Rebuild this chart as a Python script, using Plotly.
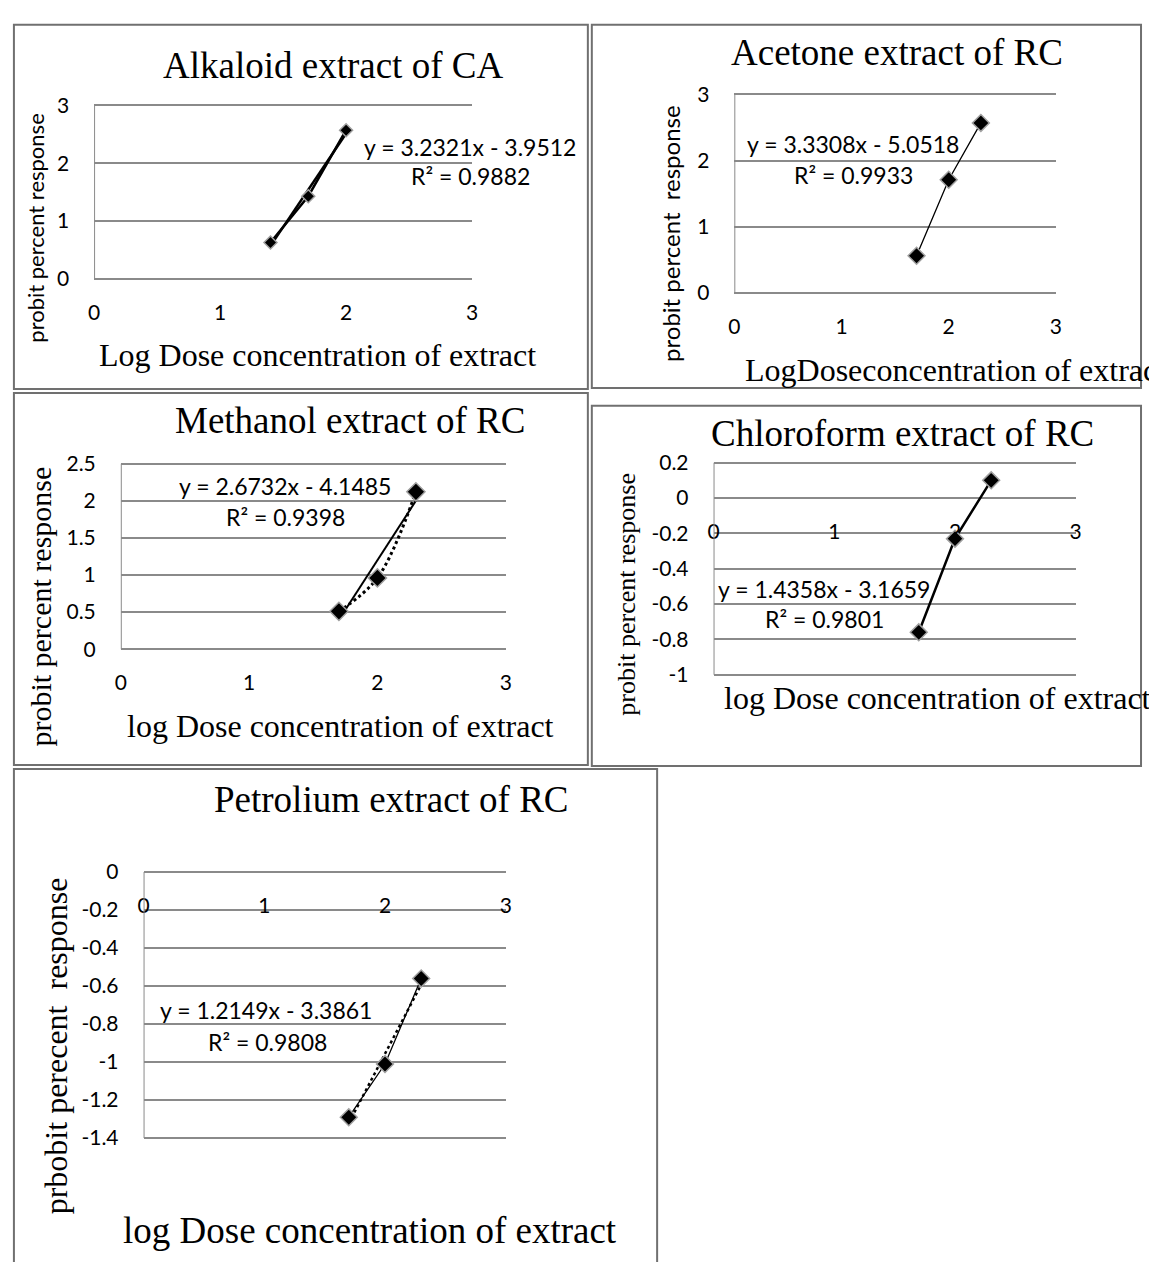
import plotly.graph_objects as go

W, H = 1149, 1262

# ---------------- data ----------------
titles = ["Alkaloid extract of CA", "Acetone extract of RC", "Methanol extract of RC",
          "Chloroform extract of RC", "Petrolium extract of RC"]
x_titles = ["Log Dose concentration of extract", "LogDoseconcentration of extract",
            "log Dose concentration of extract", "log Dose concentration of extract",
            "log Dose concentration of extract"]
y_titles = ["probit percent response", "probit percent\u00a0 response", "probit percent response",
            "probit percent response", "prbobit perecent\u00a0 response"]

x_alk = [1.4, 1.7, 2.0]
y_alk = [0.63, 1.43, 2.57]
x_ace = [1.7, 2.0, 2.3]
y_ace = [0.56, 1.71, 2.57]
x_met = [1.7, 2.0, 2.3]
y_met = [0.51, 0.96, 2.12]
x_chl = [1.7, 2.0, 2.3]
y_chl = [-0.76, -0.23, 0.10]
x_pet = [1.7, 2.0, 2.3]
y_pet = [-1.29, -1.01, -0.56]

slopes = [3.2321, 3.3308, 2.6732, 1.4358, 1.2149]
intercepts = [-3.9512, -5.0518, -4.1485, -3.1659, -3.3861]
r2 = ["0.9882", "0.9933", "0.9398", "0.9801", "0.9808"]

x_ticks = [0, 1, 2, 3]
x_ticktext = ["0", "1", "2", "3"]
y_tickvals = [[0, 1, 2, 3], [0, 1, 2, 3], [0, 0.5, 1, 1.5, 2, 2.5],
              [-1, -0.8, -0.6, -0.4, -0.2, 0, 0.2],
              [-1.4, -1.2, -1, -0.8, -0.6, -0.4, -0.2, 0]]
y_ticktext = [["0", "1", "2", "3"], ["0", "1", "2", "3"], ["0", "0.5", "1", "1.5", "2", "2.5"],
              ["-1", "-0.8", "-0.6", "-0.4", "-0.2", "0", "0.2"],
              ["-1.4", "-1.2", "-1", "-0.8", "-0.6", "-0.4", "-0.2", "0"]]

# ---------------- layout helpers ----------------
def fx(p):
    return p / W

def fy(p):
    return 1 - p / H

# pixel geometry of each plot area: (x at 0, x at 3, y px of top, y px of bottom)
geo = [(89, 471, 94, 271), (736, 1061, 83, 285), (116, 505, 459, 648),
       (715, 1081, 458, 674), (139, 505, 875, 1146)]
boxes = [(8, 12, 588, 383), (592, 12, 1147, 382), (8, 387, 588, 766),
         (592, 400, 1147, 767), (8, 770, 658, 1275)]

SANS = "Lato"
SERIF = "Liberation Serif"
GRID = "#8a8a8a"

fig = go.Figure()

def marker(size):
    return dict(symbol="diamond", size=size, color="black",
                line=dict(color="#a0a0a0", width=1.5))

data = [(x_alk, y_alk), (x_ace, y_ace), (x_met, y_met), (x_chl, y_chl), (x_pet, y_pet)]

for i, (xs, ys) in enumerate(data):
    k = "" if i == 0 else str(i + 1)
    xa, ya = "x" + k, "y" + k
    tx = [xs[0], xs[-1]]
    ty = [slopes[i] * v + intercepts[i] for v in tx]
    if i == 0:
        fig.add_trace(go.Scatter(x=tx, y=ty, mode="lines", line=dict(color="black", width=2.5),
                                 xaxis=xa, yaxis=ya, showlegend=False))
        fig.add_trace(go.Scatter(x=xs, y=ys, mode="lines+markers", line=dict(color="black", width=2.5),
                                 marker=marker(10), xaxis=xa, yaxis=ya, showlegend=False))
    elif i == 1:
        fig.add_trace(go.Scatter(x=xs, y=ys, mode="lines+markers", line=dict(color="black", width=1.3),
                                 marker=marker(13), xaxis=xa, yaxis=ya, showlegend=False))
    elif i == 2:
        fig.add_trace(go.Scatter(x=tx, y=ty, mode="lines", line=dict(color="black", width=2),
                                 xaxis=xa, yaxis=ya, showlegend=False))
        fig.add_trace(go.Scatter(x=xs, y=ys, mode="lines+markers",
                                 line=dict(color="black", width=3, dash="dot", shape="spline"),
                                 marker=marker(14), xaxis=xa, yaxis=ya, showlegend=False))
    elif i == 3:
        fig.add_trace(go.Scatter(x=xs, y=ys, mode="lines+markers", line=dict(color="black", width=2.5),
                                 marker=marker(13), xaxis=xa, yaxis=ya, showlegend=False))
    else:
        fig.add_trace(go.Scatter(x=tx, y=ty, mode="lines", line=dict(color="black", width=2.5, dash="dot"),
                                 xaxis=xa, yaxis=ya, showlegend=False))
        fig.add_trace(go.Scatter(x=xs, y=ys, mode="lines+markers", line=dict(color="black", width=1.3),
                                 marker=marker(13), xaxis=xa, yaxis=ya, showlegend=False))

    x0p, x3p, ytp, ybp = geo[i]
    ymin, ymax = y_tickvals[i][0], y_tickvals[i][-1]
    span = ymax - ymin
    eps = 0.006 * span
    # extend pixel domain consistently so edge gridlines are drawn
    pxper = (ybp - ytp) / span
    ydom = [fy(ybp + eps * pxper), fy(ytp - eps * pxper)]
    zero_px = ybp - (0 - ymin) * pxper
    xkey = "xaxis" + k
    ykey = "yaxis" + k
    fig.layout[xkey] = dict(domain=[fx(x0p), fx(x3p)], range=[0, 3], tickvals=x_ticks,
                            ticktext=x_ticktext,
                            showgrid=False, zeroline=False, showline=False,
                            anchor="free", position=fy(zero_px), ticks="",
                            ticklabelstandoff=19,
                            tickfont=dict(family=SANS, size=21, color="black"))
    fig.layout[ykey] = dict(domain=ydom, range=[ymin - eps, ymax + eps],
                            tickvals=y_tickvals[i], ticktext=y_ticktext[i],
                            showgrid=True, gridcolor=GRID, gridwidth=2, zeroline=False,
                            showline=False, anchor=xa,
                            ticks="", ticklabelstandoff=24,
                            tickfont=dict(family=SANS, size=21, color="black"))

shapes = []
for (a, b, c, d) in boxes:
    shapes.append(dict(type="rect", xref="paper", yref="paper", x0=fx(a), x1=fx(c),
                       y0=fy(d), y1=fy(b), line=dict(color="#707070", width=2)))
# vertical axis lines at x = 0 of each panel
for i in range(5):
    k = "" if i == 0 else str(i + 1)
    ymin, ymax = y_tickvals[i][0], y_tickvals[i][-1]
    shapes.append(dict(type="line", xref="x" + k, yref="y" + k, x0=0, x1=0, y0=ymin, y1=ymax,
                       line=dict(color=GRID, width=2)))

ann = []
def text(s, xp, yp, family, size, xanchor="center", angle=0):
    ann.append(dict(text=s, x=fx(xp), y=fy(yp), xref="paper", yref="paper", showarrow=False,
                    xanchor=xanchor, yanchor="middle", textangle=angle,
                    font=dict(family=family, size=size, color="black")))

# chart titles
title_pos = [(330, 53), (900, 40), (348, 415), (906, 428), (390, 801)]
for i, (xp, yp) in enumerate(title_pos):
    text(titles[i], xp, yp, SERIF, 37)

# x titles
text(x_titles[0], 315, 348, SERIF, 32)
text(x_titles[1], 745, 364, SERIF, 32, xanchor="left")
text(x_titles[2], 338, 726, SERIF, 32)
text(x_titles[3], 724, 698, SERIF, 32, xanchor="left")
text(x_titles[4], 368, 1240, SERIF, 37)

# y titles
text(y_titles[0], 29, 219, SANS, 22, angle=-90)
text(y_titles[1], 672, 225, SANS, 24, angle=-90)
text(y_titles[2], 35, 605, SERIF, 30, angle=-90)
text(y_titles[3], 627, 592, SERIF, 26, angle=-90)
text(y_titles[4], 50, 1052, SERIF, 32, angle=-90)

# trendline equations
eq_pos = [((469, 136), (469, 166)), ((856, 133), (856, 165)), ((282, 482), (282, 513)),
          ((827, 587), (827, 617)), ((263, 1016), (264, 1048))]
for i, ((ax, ay), (bx, by)) in enumerate(eq_pos):
    text("y = %.4fx - %.4f" % (slopes[i], -intercepts[i]), ax, ay, SANS, 23)
    text("R² = " + r2[i], bx, by, SANS, 23)

fig.update_layout(width=W, height=H, margin=dict(l=0, r=0, t=0, b=0),
                  paper_bgcolor="white", plot_bgcolor="white",
                  shapes=shapes, annotations=ann, showlegend=False)

fig.write_html("out.html", config={"displayModeBar": False},
               post_script="document.body.style.margin='0';document.body.style.overflow='hidden';")
